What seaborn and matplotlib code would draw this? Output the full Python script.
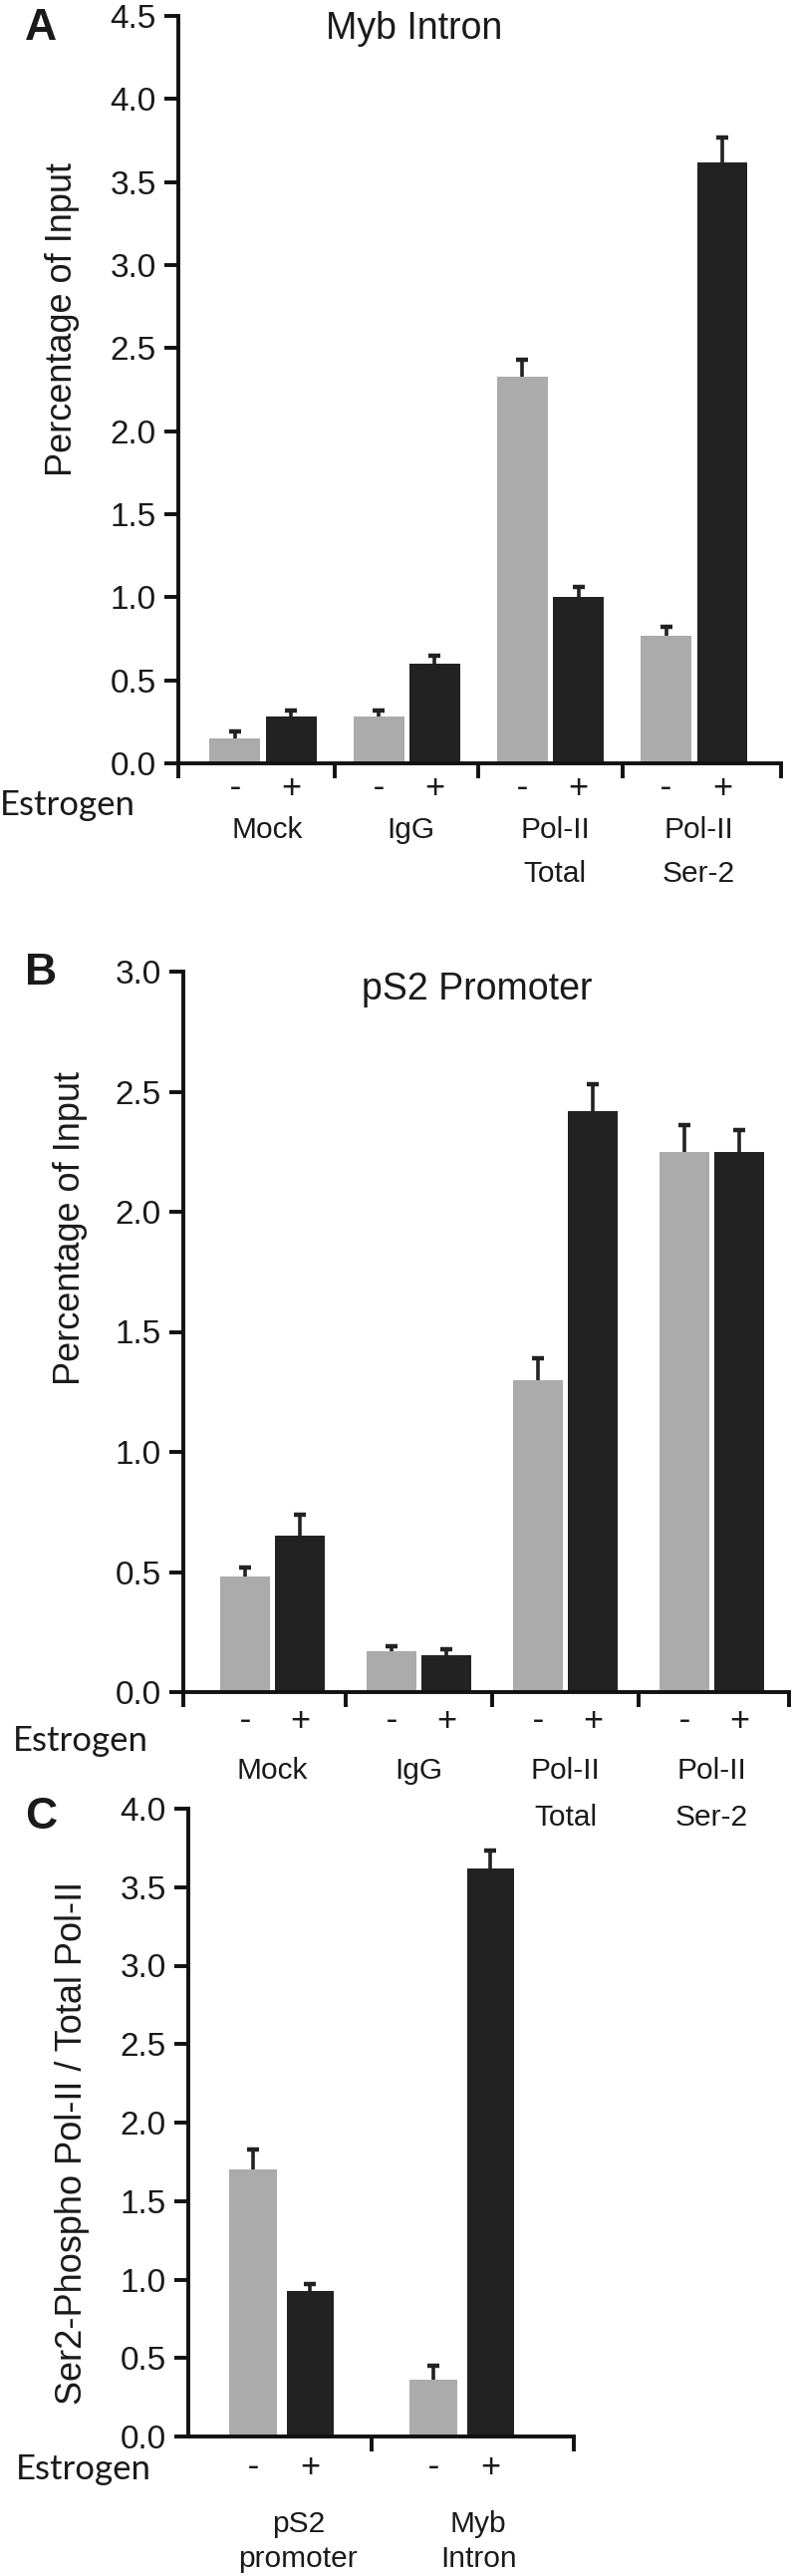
import numpy as np
import pandas as pd
import matplotlib
matplotlib.use("Agg")
import matplotlib.pyplot as plt
import matplotlib.transforms as mtransforms
import seaborn as sns
from matplotlib import font_manager

# ---------------- data ----------------
estrogen_levels = ["-", "+"]

groups_ab = ["Mock", "IgG", "Pol-II\nTotal", "Pol-II\nSer-2"]

myb_minus = [0.15, 0.28, 2.33, 0.77]
myb_plus = [0.28, 0.60, 1.00, 3.62]
myb_minus_err = [0.04, 0.04, 0.10, 0.05]
myb_plus_err = [0.04, 0.05, 0.06, 0.15]

ps2_minus = [0.48, 0.17, 1.30, 2.25]
ps2_plus = [0.65, 0.155, 2.42, 2.25]
ps2_minus_err = [0.04, 0.02, 0.09, 0.11]
ps2_plus_err = [0.09, 0.025, 0.11, 0.09]

groups_c = ["pS2\npromoter", "Myb\nIntron"]
ratio_minus = [1.70, 0.36]
ratio_plus = [0.93, 3.62]
ratio_minus_err = [0.13, 0.09]
ratio_plus_err = [0.04, 0.115]

# ---------------- style ----------------
sns.set_style("white")
avail = {f.name for f in font_manager.fontManager.ttflist}
SANS = "Liberation Sans" if "Liberation Sans" in avail else "DejaVu Sans"
HUM = "Lato" if "Lato" in avail else SANS
plt.rcParams["font.family"] = [SANS, "DejaVu Sans"]

GRAY = "#ABABAB"
DARK = "#222222"
TXT = "#1a1a1a"
W, H = 796, 2585
fig = plt.figure(figsize=(W / 100, H / 100), dpi=100)
fig.patch.set_facecolor("white")


def add_axes(left, right, top, bottom):
    return fig.add_axes([left / W, 1 - bottom / H, (right - left) / W, (bottom - top) / H])


def fy(py):
    return 1 - py / H


def panel(ax, groups, minus, plus, minus_err, plus_err, ymax, xlim, width, gap,
          seps, axis_py, pm_dy, l1_dy, l2_dy, label_dx):
    df = pd.DataFrame({
        "group": groups * 2,
        "Estrogen": ["-"] * len(groups) + ["+"] * len(groups),
        "value": minus + plus,
    })
    sns.barplot(data=df, x="group", y="value", hue="Estrogen", order=groups,
                hue_order=estrogen_levels, palette={"-": GRAY, "+": DARK},
                width=width, gap=gap, errorbar=None, legend=False, ax=ax,
                saturation=1, linewidth=0)
    errs = {"-": minus_err, "+": plus_err}
    trans = mtransforms.blended_transform_factory(ax.transData, fig.transFigure)
    for cont, lvl in zip(ax.containers, estrogen_levels):
        xs = np.array([b.get_x() + b.get_width() / 2 for b in cont])
        hs = np.array([b.get_height() for b in cont])
        _, caps, _ = ax.errorbar(xs, hs, yerr=[np.zeros(len(xs)), errs[lvl]], fmt="none",
                                 ecolor=DARK, elinewidth=2.6, capsize=4, capthick=3.2,
                                 zorder=3)
        for c in caps:
            if np.allclose(c.get_ydata(), hs):
                c.set_visible(False)
        for x in xs:
            ax.text(x, fy(axis_py + pm_dy), lvl, transform=trans, ha="center",
                    va="center", fontsize=25, family=HUM, color=TXT)
    for i, g in enumerate(groups):
        lines = g.split("\n")
        for ln, dy in zip(lines, [l1_dy, l2_dy]):
            ax.text(i + label_dx, fy(axis_py + dy), ln, transform=trans, ha="center",
                    va="baseline", fontsize=21.5, color=TXT)
    ax.set_xlim(*xlim)
    ax.set_ylim(0, ymax)
    ax.set_xlabel("")
    ax.set_ylabel("")
    ax.set_xticks([])
    ax.set_xticks(seps, minor=True)
    yt = np.arange(0, ymax + 0.001, 0.5)
    ax.set_yticks(yt)
    ax.set_yticklabels([f"{v:.1f}" for v in yt])
    ax.tick_params(axis="y", which="major", left=True, length=10, width=2.8,
                   pad=6, direction="out", color="#111111", labelsize=24,
                   labelcolor=TXT)
    ax.tick_params(axis="x", which="minor", bottom=True, length=11, width=2.8,
                   direction="out", color="#111111")
    for s in ["top", "right"]:
        ax.spines[s].set_visible(False)
    for s in ["left", "bottom"]:
        ax.spines[s].set_linewidth(2.8)
        ax.spines[s].set_color("#111111")
    ax.patch.set_visible(False)
    ax.grid(False)


# ---------- Panel A ----------
axA = add_axes(179, 784, 16, 766)
xlA = (-0.589, 3.604)
panel(axA, groups_ab, myb_minus, myb_plus, myb_minus_err, myb_plus_err, 4.5, xlA,
      0.78, 0.095, [xlA[0], 0.5, 1.5, 2.5, xlA[1]], 766, 25, 75, 119, 0.03)
fig.text(25 / W, fy(40), "A", fontsize=32, fontweight="bold", ha="left", va="baseline",
         color=TXT)
fig.text(416 / W, fy(39), "Myb Intron", fontsize=27, ha="center",
         va="baseline", color=TXT)
fig.text(63 / W, fy(320), "Percentage of Input", fontsize=26, rotation=90,
         ha="center", va="center", color=TXT)
fig.text(0 / W, fy(808), "Estrogen", fontsize=25, family=HUM, ha="left", va="center",
         color=TXT)

# ---------- Panel B ----------
axB = add_axes(184, 792, 975, 1698)
xlB = (-0.609, 3.527)
panel(axB, groups_ab, ps2_minus, ps2_plus, ps2_minus_err, ps2_plus_err, 3.0, xlB,
      0.75, 0.09, [xlB[0], 0.5, 1.5, 2.5, xlB[1]], 1698, 29, 87, 134, 0.0)
fig.text(25 / W, fy(988), "B", fontsize=32, fontweight="bold", ha="left", va="baseline",
         color=TXT)
fig.text(479 / W, fy(1003), "pS2 Promoter", fontsize=27, ha="center",
         va="baseline", color=TXT)
fig.text(71 / W, fy(1232), "Percentage of Input", fontsize=26, rotation=90,
         ha="center", va="center", color=TXT)
fig.text(13 / W, fy(1747), "Estrogen", fontsize=25, family=HUM, ha="left", va="center",
         color=TXT)

# ---------- Panel C ----------
axC = add_axes(189, 576, 1815, 2445)
xlC = (-0.519, 1.619)
panel(axC, groups_c, ratio_minus, ratio_plus, ratio_minus_err, ratio_plus_err, 4.0, xlC,
      0.63, 0.16, [0.5, xlC[1]], 2445, 31, 96, 131, 0.09)
fig.text(25 / W, fy(1835), "C", fontsize=32, fontweight="bold", ha="left", va="baseline",
         color=TXT)
fig.text(73 / W, fy(2150), "Ser2-Phospho Pol-II / Total Pol-II", fontsize=26, rotation=90,
         ha="center", va="center", color=TXT)
fig.text(16 / W, fy(2478), "Estrogen", fontsize=25, family=HUM, ha="left", va="center",
         color=TXT)

fig.savefig("out.png", dpi=100, facecolor="white")
